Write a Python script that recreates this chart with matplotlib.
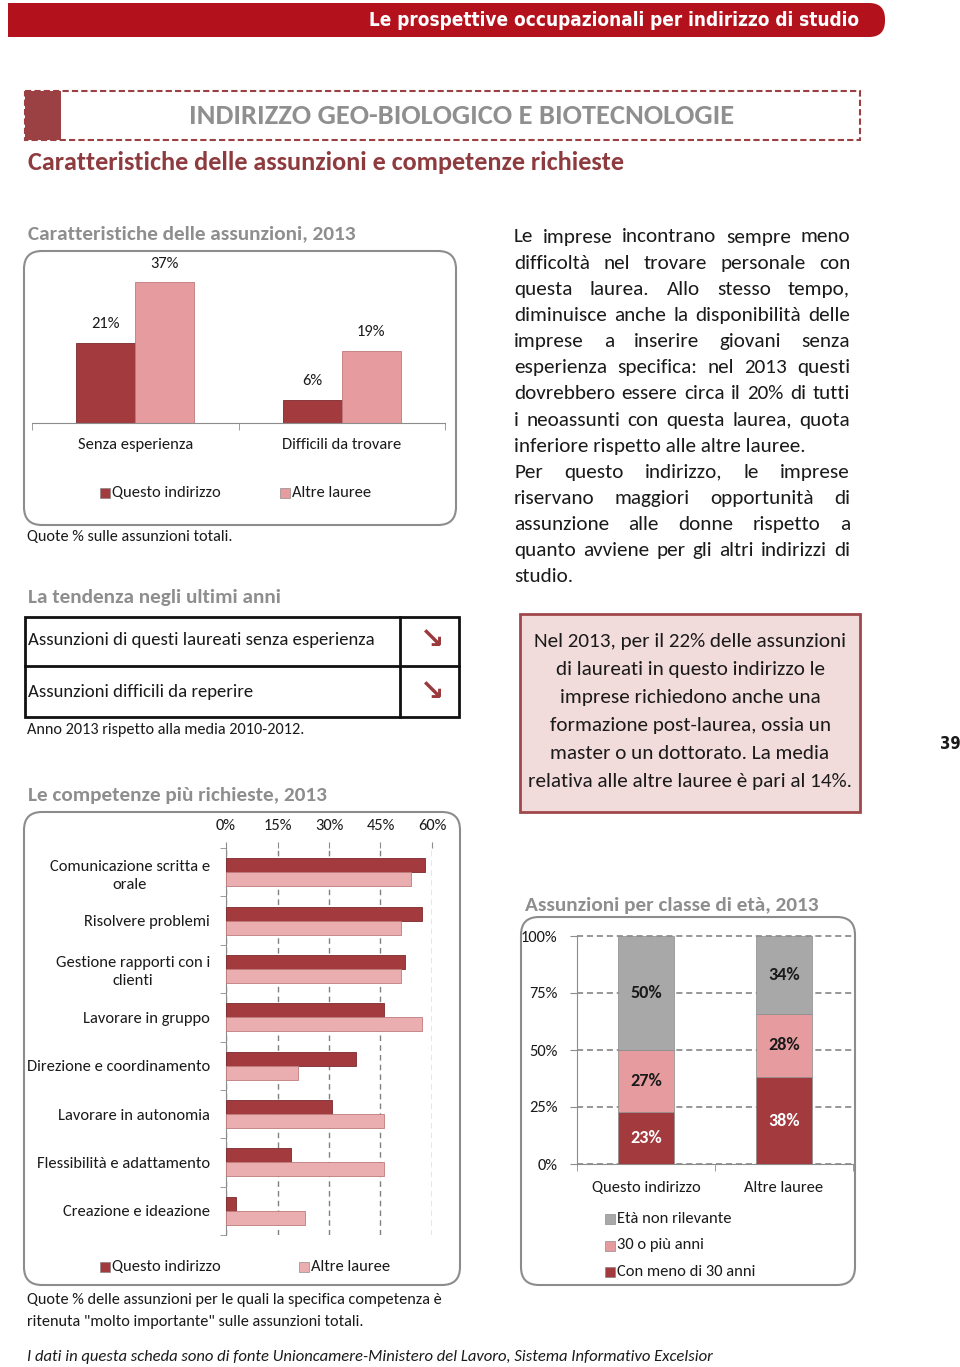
import matplotlib
matplotlib.use('Agg')
import matplotlib.pyplot as plt
from matplotlib import font_manager
from matplotlib.patches import Rectangle, FancyBboxPatch
import numpy as np

W, H = 960, 1367

carat_categorie = ['Senza esperienza', 'Difficili da trovare']
carat_questo = [21, 6]
carat_altre = [37, 19]

tendenza_voci = ['Assunzioni di questi laureati senza esperienza',
                 'Assunzioni difficili da reperire']
tendenza_segni = ['↘', '↘']

competenze = ['Comunicazione scritta e\norale', 'Risolvere problemi',
              'Gestione rapporti con i\nclienti', 'Lavorare in gruppo',
              'Direzione e coordinamento', 'Lavorare in autonomia',
              'Flessibilità e adattamento', 'Creazione e ideazione']
comp_questo = [58, 57, 52, 46, 38, 31, 19, 3]
comp_altre = [54, 51, 51, 57, 21, 46, 46, 23]
comp_ticks = [0, 15, 30, 45, 60]

eta_gruppi = ['Questo indirizzo', 'Altre lauree']
eta_classi = ['Con meno di 30 anni', '30 o più anni', 'Età non rilevante']
eta_meno30 = [23, 38]
eta_piu30 = [27, 28]
eta_non_ril = [50, 34]
eta_ticks = [0, 25, 50, 75, 100]

serie = ['Questo indirizzo', 'Altre lauree']

testo_destra = [
    'Le imprese incontrano sempre meno',
    'difficoltà nel trovare personale con',
    'questa laurea. Allo stesso tempo,',
    'diminuisce anche la disponibilità delle',
    'imprese a inserire giovani senza',
    'esperienza specifica: nel 2013 questi',
    'dovrebbero essere circa il 20% di tutti',
    'i neoassunti con questa laurea, quota',
    'inferiore rispetto alle altre lauree.',
    'Per questo indirizzo, le imprese',
    'riservano maggiori opportunità di',
    'assunzione alle donne rispetto a',
    'quanto avviene per gli altri indirizzi di',
    'studio.',
]
testo_box = [
    'Nel 2013, per il 22% delle assunzioni',
    'di laureati in questo indirizzo le',
    'imprese richiedono anche una',
    'formazione post-laurea, ossia un',
    'master o un dottorato. La media',
    'relativa alle altre lauree è pari al 14%.',
]

ROSSO = '#b3121c'
BORDEAUX = '#8e3b3f'
GRIGIO_TIT = '#8e8e8e'
GRIGIO_LINEA = '#8c8c8c'
SCURO = '#a23a3e'
ROSA = '#e69c9e'
ROSA_CHIARO = '#eaaeb0'
GRIGIO_BAR = '#a8a8a8'
NERO = '#1a1a1a'

disponibili = {f.name for f in font_manager.fontManager.ttflist}


def scegli(*nomi):
    for n in nomi:
        if n in disponibili:
            return n
    return 'DejaVu Sans'


BASE = scegli('Carlito', 'Lato', 'Open Sans')

# un carattere stretto per la testata, se ce n'è uno
stretti = [f for f in font_manager.fontManager.ttflist
           if ('Narrow' in f.name or 'Condensed' in f.name
               or str(f.stretch) in ('condensed', 'semi-condensed'))
           and 'Mono' not in f.name and 'Serif' not in f.name]
if stretti:
    STRETTO = {'family': stretti[0].name, 'fontstretch': stretti[0].stretch}
else:
    STRETTO = {'family': 'Liberation Sans'}

fig = plt.figure(figsize=(W / 100, H / 100), dpi=100)
rend = fig.canvas.get_renderer()


def larghezza(s, size=10, **kw):
    t = fig.text(0, 0, s, fontsize=size, **kw)
    w = t.get_window_extent(rend).width
    t.remove()
    return w


def adatta(s, px, **kw):
    return 10 * px / larghezza(s, 10, **kw)


# misure dei testi prese dalla scheda
f_corpo = adatta('Direzione e coordinamento', 184, family=BASE)
f_nota = adatta('Quote % sulle assunzioni totali.', 207, family=BASE)
f_tab = adatta(tendenza_voci[0], 349, family=BASE)
f_par = adatta('inferiore rispetto alle altre lauree.', 292, family=BASE)
f_box = adatta(testo_box[-1], 325, family=BASE)
f_sez = adatta('Caratteristiche delle assunzioni, 2013', 329, family=BASE, weight='bold')
f_sotto = adatta('Caratteristiche delle assunzioni e competenze richieste', 598, family=BASE, weight='bold')
f_ind = adatta('INDIRIZZO GEO-BIOLOGICO E BIOTECNOLOGIE', 547, family=BASE, weight='bold')
f_testa = adatta('Le prospettive occupazionali per indirizzo di studio', 487,
                 weight='bold', **STRETTO)
f_piede = adatta('I dati in questa scheda sono di fonte Unioncamere-Ministero del Lavoro, '
                 'Sistema Informativo Excelsior', 684, family=BASE, style='italic')
f_val = adatta('50%', 32, family=BASE, weight='bold')

bg = fig.add_axes([0, 0, 1, 1], zorder=0)
bg.set_xlim(0, W)
bg.set_ylim(H, 0)
bg.axis('off')


def box_ax(x0, y0, x1, y1):
    a = fig.add_axes([x0 / W, 1 - y1 / H, (x1 - x0) / W, (y1 - y0) / H], zorder=2)
    a.set_facecolor('none')
    return a


def cornice(x0, y0, x1, y1, r=18):
    bg.add_patch(FancyBboxPatch((x0, y0), x1 - x0, y1 - y0,
                                boxstyle=f'round,pad=0,rounding_size={r}',
                                fc='white', ec=GRIGIO_LINEA, lw=1.5))


def scritta(x, y, s, size, **kw):
    if 'family' not in kw and 'fontstretch' not in kw:
        kw['family'] = BASE
    kw.setdefault('color', NERO)
    kw.setdefault('va', 'center')
    return bg.text(x, y, s, fontsize=size, **kw)


def voce(x, y, col, testo, size):
    bg.add_patch(Rectangle((x, y - 5), 10, 10, fc=col, ec='#7a7a7a', lw=0.4))
    scritta(x + 12, y, testo, size)


# intestazione
bg.add_patch(FancyBboxPatch((8, 3), 877, 34, boxstyle='round,pad=0,rounding_size=16',
                            fc=ROSSO, ec='none'))
bg.add_patch(Rectangle((8, 3), 800, 34, fc=ROSSO, ec='none'))
scritta(859, 21, 'Le prospettive occupazionali per indirizzo di studio', f_testa,
        color='white', ha='right', weight='bold', **STRETTO)

bg.add_patch(Rectangle((25, 91), 835, 49, fc='none', ec='#9b4144', lw=1.5,
                       linestyle=(0, (3, 1.5))))
bg.add_patch(Rectangle((25, 91), 36, 49, fc='#9b4144', ec='none'))
scritta(462, 116, 'INDIRIZZO GEO-BIOLOGICO E BIOTECNOLOGIE', f_ind, color='#8f8f8f',
        ha='center', weight='bold')
scritta(28, 163, 'Caratteristiche delle assunzioni e competenze richieste', f_sotto,
        color=BORDEAUX, weight='bold')

# --- caratteristiche delle assunzioni ---
scritta(28, 234, 'Caratteristiche delle assunzioni, 2013', f_sez, color=GRIGIO_TIT, weight='bold')
cornice(24, 251, 456, 525)
ax1 = box_ax(32, 252, 445, 423)
x = np.arange(len(carat_categorie))
w = 0.286
r1 = ax1.bar(x - w / 2, carat_questo, w, color=SCURO, ec='#7c2a2d', lw=0.6)
r2 = ax1.bar(x + w / 2, carat_altre, w, color=ROSA, ec='#c07a7c', lw=0.6)
for barre, vals in [(r1, carat_questo), (r2, carat_altre)]:
    for b, v in zip(barre, vals):
        ax1.annotate(f'{v}%', (b.get_x() + b.get_width() / 2, v), xytext=(0, 13.5),
                     textcoords='offset points', ha='center', va='center',
                     fontsize=f_corpo, family=BASE, color=NERO)
ax1.set_xlim(-0.5, 1.5)
ax1.set_ylim(0, 45)
for s in ['top', 'right', 'left']:
    ax1.spines[s].set_visible(False)
ax1.spines['bottom'].set_color(GRIGIO_LINEA)
ax1.set_yticks([])
ax1.set_xticks(x, carat_categorie, fontsize=f_corpo, family=BASE, color=NERO)
ax1.set_xticks([-0.5, 0.5, 1.5], minor=True)
ax1.tick_params(axis='x', which='major', length=0, pad=11)
ax1.tick_params(axis='x', which='minor', length=5, color=GRIGIO_LINEA)
voce(100, 493, SCURO, serie[0], f_corpo)
voce(280, 493, ROSA, serie[1], f_corpo)
scritta(27, 537, 'Quote % sulle assunzioni totali.', f_nota)

# --- tendenza ---
scritta(28, 598, 'La tendenza negli ultimi anni', f_sez, color=GRIGIO_TIT, weight='bold')
bg.add_patch(Rectangle((25, 617), 434, 100, fc='none', ec='#111111', lw=2))
bg.plot([25, 459], [666, 666], color='#111111', lw=2)
bg.plot([400, 400], [617, 717], color='#111111', lw=2)
for i, (voce_t, segno) in enumerate(zip(tendenza_voci, tendenza_segni)):
    yy = 640 + 52 * i
    scritta(28, yy, voce_t, f_tab)
    scritta(432, yy, segno, 21, family='DejaVu Sans', weight='bold', color='#9b3a3d', ha='center')
scritta(27, 730, 'Anno 2013 rispetto alla media 2010-2012.', f_nota)

# --- competenze ---
scritta(28, 796, 'Le competenze più richieste, 2013', f_sez, color=GRIGIO_TIT, weight='bold')
cornice(24, 812, 460, 1285)
ax2 = box_ax(226, 848, 432, 1235)
y = np.arange(len(competenze))
h = 0.29
ax2.barh(y - 0.145, comp_questo, h, color=SCURO, ec='#7c2a2d', lw=0.6, zorder=3)
ax2.barh(y + 0.145, comp_altre, h, color=ROSA_CHIARO, ec='#c07a7c', lw=0.6, zorder=3)
ax2.set_xlim(0, 60)
ax2.set_ylim(7.5, -0.5)
ax2.xaxis.tick_top()
ax2.set_xticks(comp_ticks, [f'{t}%' for t in comp_ticks], fontsize=f_corpo, family=BASE, color=NERO)
ax2.tick_params(axis='x', length=4, color=GRIGIO_LINEA, pad=7)
ax2.grid(axis='x', color='#808080', lw=1, linestyle=(0, (4, 3)))
ax2.set_yticks(y, competenze, fontsize=f_corpo, family=BASE, color=NERO, linespacing=1.35)
for lab in ax2.get_yticklabels():
    lab.set_multialignment('center')
ax2.set_yticks(np.arange(-0.5, 8, 1), minor=True)
ax2.tick_params(axis='y', which='major', length=0, pad=11.5)
ax2.tick_params(axis='y', which='minor', length=4, color=GRIGIO_LINEA)
for s in ['top', 'right', 'bottom']:
    ax2.spines[s].set_visible(False)
ax2.spines['left'].set_color(GRIGIO_LINEA)
voce(100, 1267, SCURO, serie[0], f_corpo)
voce(299, 1267, ROSA_CHIARO, serie[1], f_corpo)
scritta(27, 1300, 'Quote % delle assunzioni per le quali la specifica competenza è', f_nota)
scritta(27, 1322, 'ritenuta "molto importante" sulle assunzioni totali.', f_nota)

# --- testo a destra, giustificato ---
passo = 26.15
ultime = {8, 13}
for i, riga in enumerate(testo_destra):
    yy = 237 + i * passo
    if i in ultime:
        scritta(514, yy, riga, f_par)
        continue
    parole = riga.split()
    larg = [larghezza(p, f_par, family=BASE) for p in parole]
    gap = (850 - 514 - sum(larg)) / (len(parole) - 1)
    xx = 514
    for p, l in zip(parole, larg):
        scritta(xx, yy, p, f_par)
        xx += l + gap

bg.add_patch(Rectangle((520, 614), 340, 198, fc='#f2dcdb', ec='#a0474b', lw=2))
for i, riga in enumerate(testo_box):
    scritta(690, 641 + i * 28.2, riga, f_box, ha='center')

scritta(950, 744, '39', 12, weight='bold', ha='center', **STRETTO)

# --- classi di età ---
scritta(525, 905, 'Assunzioni per classe di età, 2013', f_sez, color=GRIGIO_TIT, weight='bold')
cornice(521, 917, 855, 1285)
ax3 = box_ax(577, 936, 853, 1164)
xg = np.arange(len(eta_gruppi))
base = np.zeros(len(eta_gruppi))
for vals, col, tc in [(eta_meno30, SCURO, 'white'), (eta_piu30, ROSA, NERO),
                      (eta_non_ril, GRIGIO_BAR, NERO)]:
    bb = ax3.bar(xg, vals, 0.4, bottom=base, color=col, ec='#8a8a8a', lw=0.5, zorder=3)
    ax3.bar_label(bb, labels=[f'{v}%' for v in vals], label_type='center', color=tc,
                  fontsize=f_val, family=BASE, weight='bold', zorder=4)
    base = base + np.array(vals)
ax3.set_xlim(-0.5, 1.5)
ax3.set_ylim(0, 100)
ax3.set_yticks(eta_ticks, [f'{t}%' for t in eta_ticks], fontsize=f_corpo, family=BASE, color=NERO)
ax3.tick_params(axis='y', length=5, color=GRIGIO_LINEA, pad=9)
ax3.set_xticks(xg, eta_gruppi, fontsize=f_corpo, family=BASE, color=NERO)
ax3.set_xticks([-0.5, 0.5, 1.5], minor=True)
ax3.tick_params(axis='x', which='major', length=0, pad=12)
ax3.tick_params(axis='x', which='minor', length=5, color=GRIGIO_LINEA)
ax3.grid(axis='y', color='#7a7a7a', lw=1.1, linestyle=(0, (4, 2.5)))
for gl in ax3.get_ygridlines():
    gl.set_clip_on(False)
for s in ['top', 'right']:
    ax3.spines[s].set_visible(False)
ax3.spines['left'].set_color(GRIGIO_LINEA)
ax3.spines['bottom'].set_color(GRIGIO_LINEA)
leg_col = {'Con meno di 30 anni': SCURO, '30 o più anni': ROSA, 'Età non rilevante': GRIGIO_BAR}
for i, nome in enumerate(reversed(eta_classi)):
    voce(605, 1219 + i * 26.5, leg_col[nome], nome, f_corpo)

scritta(27, 1357, 'I dati in questa scheda sono di fonte Unioncamere-Ministero del Lavoro, '
        'Sistema Informativo Excelsior', f_piede, style='italic')

fig.savefig('out.png', dpi=100)
